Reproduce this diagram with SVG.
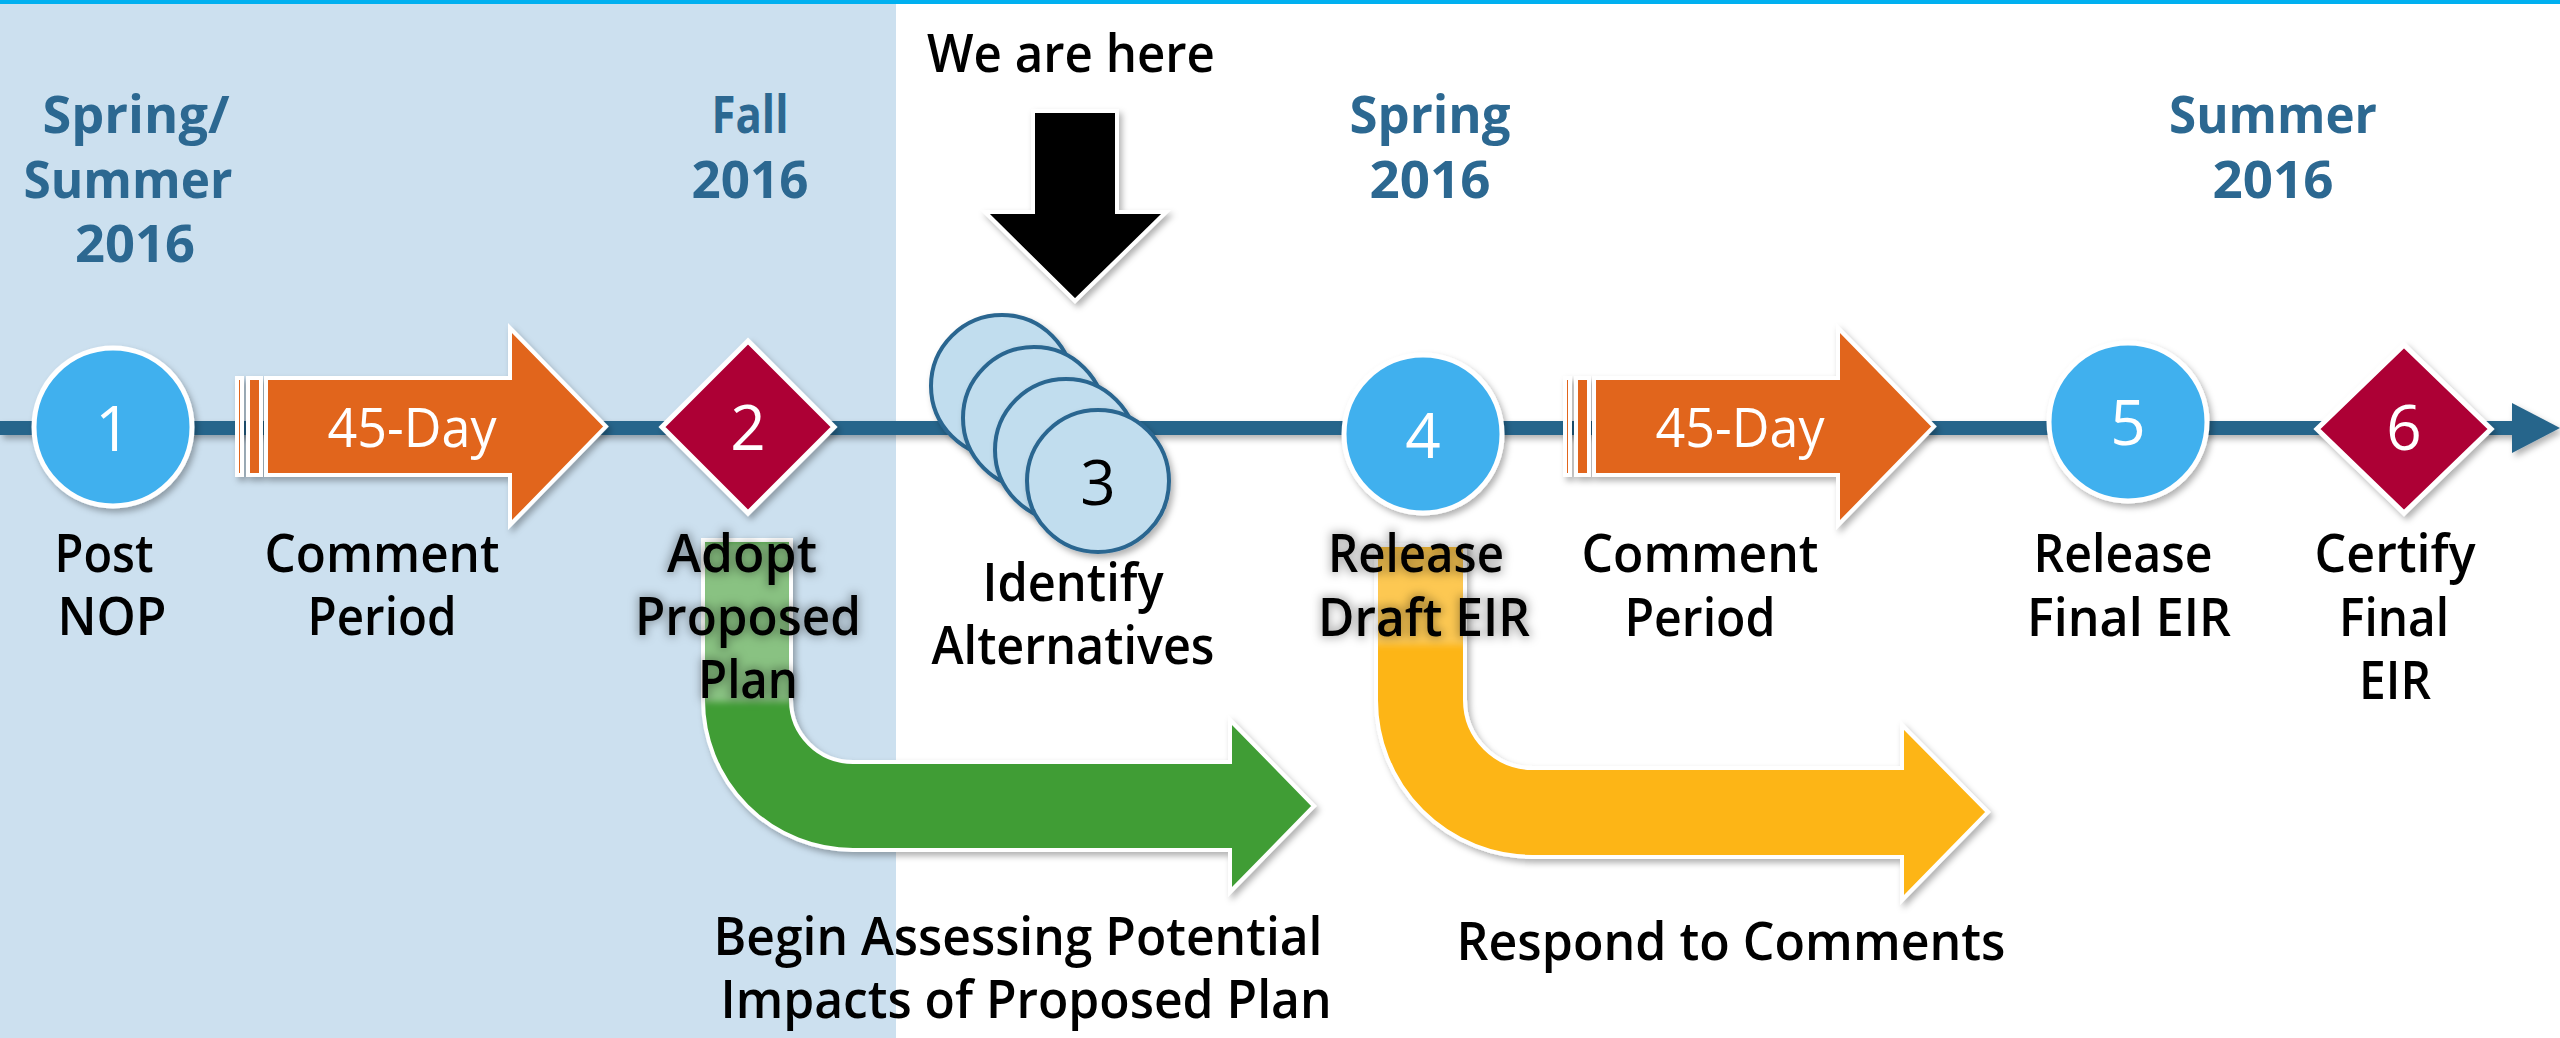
<svg xmlns="http://www.w3.org/2000/svg" width="2560" height="1038" viewBox="0 0 2560 1038">
<style>
.lbl{font-family:"Open Sans","Noto Sans","Liberation Sans",sans-serif;font-weight:600;font-size:53px;fill:#000;text-anchor:middle}
.season{font-family:"Open Sans","Noto Sans","Liberation Sans",sans-serif;font-weight:700;font-size:52px;fill:#2c6891;text-anchor:middle}
.num{font-family:"Open Sans","Noto Sans","Liberation Sans",sans-serif;font-weight:400;font-size:62px;fill:#fff;text-anchor:middle}
.day{font-family:"Open Sans","Noto Sans","Liberation Sans",sans-serif;font-weight:400;font-size:54px;fill:#fff;text-anchor:middle}
.circ{fill:#41b0ee;stroke:#fff;stroke-width:5}
.dia{fill:#ad0034;stroke:#fff;stroke-width:5;stroke-linejoin:miter}
.orange{fill:#e1651b;stroke:#fff;stroke-width:4}
.alt{fill:#c1ddee;stroke:#2a6690;stroke-width:4}
</style>
<defs>
<filter id="sh" x="-20%" y="-20%" width="140%" height="140%">
<feDropShadow dx="3" dy="4" stdDeviation="3" flood-color="#000" flood-opacity="0.3"/>
</filter>
<filter id="halo" x="-20%" y="-30%" width="140%" height="160%">
<feMorphology in="SourceAlpha" operator="dilate" radius="2" result="d"/>
<feGaussianBlur in="d" stdDeviation="5" result="b"/>
<feFlood flood-color="#000" flood-opacity="0.28"/>
<feComposite in2="b" operator="in" result="s"/>
<feMerge><feMergeNode in="s"/><feMergeNode in="SourceGraphic"/></feMerge>
</filter>
<filter id="soft" x="-10%" y="-10%" width="120%" height="120%">
<feGaussianBlur stdDeviation="3"/>
</filter>
<clipPath id="gclip"><rect x="705" y="542" width="84" height="200"/></clipPath>
<clipPath id="yclip"><rect x="1378" y="547" width="85" height="150"/></clipPath>
<g id="oarrow">
<rect x="237" y="378" width="5" height="97" class="orange"/>
<rect x="248" y="378" width="13" height="97" class="orange"/>
<path d="M266,378 H510 V328 L606,426.5 L510,525 V475 H266 Z" class="orange"/>
</g>
</defs>

<rect x="0" y="0" width="2560" height="1038" fill="#fff"/>
<rect x="0" y="0" width="896" height="1038" fill="#cce0ef"/>
<rect x="0" y="0" width="2560" height="4" fill="#00b0f0"/>

<g id="seasons">
<text class="season" x="136" y="133" textLength="187" lengthAdjust="spacingAndGlyphs">Spring/</text>
<text class="season" x="128" y="198" textLength="209" lengthAdjust="spacingAndGlyphs">Summer</text>
<text class="season" x="135" y="262" textLength="120" lengthAdjust="spacingAndGlyphs">2016</text>
<text class="season" x="750" y="133" textLength="77" lengthAdjust="spacingAndGlyphs">Fall</text>
<text class="season" x="750" y="198" textLength="117" lengthAdjust="spacingAndGlyphs">2016</text>
<text class="season" x="1430" y="133" textLength="161" lengthAdjust="spacingAndGlyphs">Spring</text>
<text class="season" x="1430" y="198" textLength="121" lengthAdjust="spacingAndGlyphs">2016</text>
<text class="season" x="2273" y="133" textLength="208" lengthAdjust="spacingAndGlyphs">Summer</text>
<text class="season" x="2273" y="198" textLength="121" lengthAdjust="spacingAndGlyphs">2016</text>
</g>

<g id="connectors" filter="url(#sh)">
<line x1="0" y1="428" x2="2516" y2="428" stroke="#28658b" stroke-width="14"/>
<polygon points="2512,403 2560,428 2512,453" fill="#28658b"/>
</g>

<g id="we-are-here">
<text class="lbl" x="1071" y="72" font-size="54" textLength="288" lengthAdjust="spacingAndGlyphs">We are here</text>
<path d="M1033,111 H1117 V212 H1166 L1075,301 L985,212 H1033 Z" fill="#000" stroke="#fff" stroke-width="4" filter="url(#sh)"/>
</g>

<g id="step1">
<circle cx="113" cy="427" r="79" class="circ" filter="url(#sh)"/>
<text class="num" x="113" y="451">1</text>
<text class="lbl" x="104" y="572" textLength="99" lengthAdjust="spacingAndGlyphs">Post</text>
<text class="lbl" x="112" y="635" textLength="109" lengthAdjust="spacingAndGlyphs">NOP</text>
</g>

<g id="comment1">
<use href="#oarrow" filter="url(#sh)"/>
<text class="day" x="412" y="447" textLength="169" lengthAdjust="spacingAndGlyphs">45-Day</text>
<text class="lbl" x="382" y="572" textLength="235" lengthAdjust="spacingAndGlyphs">Comment</text>
<text class="lbl" x="382" y="635" textLength="149" lengthAdjust="spacingAndGlyphs">Period</text>
</g>

<g id="assess">
<path d="M703,540 H791 V700 A62,62 0 0 0 853,762 H1230 V720 L1314,806 L1230,892 V850 H853 A150,150 0 0 1 703,700 Z" fill="#419d36" stroke="#fff" stroke-width="4" filter="url(#sh)"/>
<g clip-path="url(#gclip)"><rect x="700" y="542" width="94" height="160" fill="#fff" opacity="0.38" filter="url(#soft)"/></g>
<text class="lbl" x="1018" y="955" font-size="52" textLength="609" lengthAdjust="spacingAndGlyphs">Begin Assessing Potential</text>
<text class="lbl" x="1026" y="1018" font-size="52" textLength="611" lengthAdjust="spacingAndGlyphs">Impacts of Proposed Plan</text>
</g>

<g id="respond">
<path d="M1376,545 H1465 V700 A68,68 0 0 0 1533,768 H1902 V725 L1988,812 L1902,900 V857 H1533 A157,157 0 0 1 1376,700 Z" fill="#fdb515" stroke="#fff" stroke-width="4" filter="url(#sh)"/>
<g clip-path="url(#yclip)"><rect x="1373" y="547" width="95" height="98" fill="#fff" opacity="0.26" filter="url(#soft)"/></g>
<text class="lbl" x="1731" y="960" font-size="52" textLength="549" lengthAdjust="spacingAndGlyphs">Respond to Comments</text>
</g>

<g id="step2">
<polygon points="748,341 834,427 748,513 662,427" class="dia" filter="url(#sh)"/>
<text class="num" x="748" y="450">2</text>
<g filter="url(#halo)">
<text class="lbl" x="742" y="572" textLength="150" lengthAdjust="spacingAndGlyphs">Adopt</text>
<text class="lbl" x="748" y="635" textLength="226" lengthAdjust="spacingAndGlyphs">Proposed</text>
<text class="lbl" x="748" y="698" textLength="100" lengthAdjust="spacingAndGlyphs">Plan</text>
</g>
</g>

<g id="step3">
<circle cx="1002" cy="386" r="71" class="alt" filter="url(#sh)"/>
<circle cx="1034" cy="418" r="71" class="alt" filter="url(#sh)"/>
<circle cx="1066" cy="450" r="71" class="alt" filter="url(#sh)"/>
<circle cx="1098" cy="481" r="71" class="alt" filter="url(#sh)"/>
<text class="num" x="1098" y="505" font-size="60" style="fill:#000">3</text>
<text class="lbl" x="1073" y="601" textLength="181" lengthAdjust="spacingAndGlyphs">Identify</text>
<text class="lbl" x="1073" y="664" textLength="283" lengthAdjust="spacingAndGlyphs">Alternatives</text>
</g>

<g id="step4">
<circle cx="1423" cy="434" r="79" class="circ" filter="url(#sh)"/>
<text class="num" x="1423" y="458">4</text>
<g filter="url(#halo)">
<text class="lbl" x="1416" y="572" textLength="176" lengthAdjust="spacingAndGlyphs">Release</text>
<text class="lbl" x="1424" y="636" textLength="212" lengthAdjust="spacingAndGlyphs">Draft EIR</text>
</g>
</g>

<g id="comment2">
<use href="#oarrow" transform="translate(1328,0)" filter="url(#sh)"/>
<text class="day" x="1740" y="447" textLength="169" lengthAdjust="spacingAndGlyphs">45-Day</text>
<text class="lbl" x="1700" y="572" textLength="237" lengthAdjust="spacingAndGlyphs">Comment</text>
<text class="lbl" x="1700" y="636" textLength="151" lengthAdjust="spacingAndGlyphs">Period</text>
</g>

<g id="step5">
<circle cx="2128" cy="422" r="79" class="circ" filter="url(#sh)"/>
<text class="num" x="2128" y="445">5</text>
<text class="lbl" x="2123" y="572" textLength="179" lengthAdjust="spacingAndGlyphs">Release</text>
<text class="lbl" x="2129" y="636" textLength="204" lengthAdjust="spacingAndGlyphs">Final EIR</text>
</g>

<g id="step6">
<polygon points="2404,345 2491,429 2404,513 2317,429" class="dia" filter="url(#sh)"/>
<text class="num" x="2404" y="450">6</text>
<text class="lbl" x="2395" y="572" textLength="161" lengthAdjust="spacingAndGlyphs">Certify</text>
<text class="lbl" x="2394" y="636" textLength="110" lengthAdjust="spacingAndGlyphs">Final</text>
<text class="lbl" x="2395" y="699" textLength="72" lengthAdjust="spacingAndGlyphs">EIR</text>
</g>
</svg>
